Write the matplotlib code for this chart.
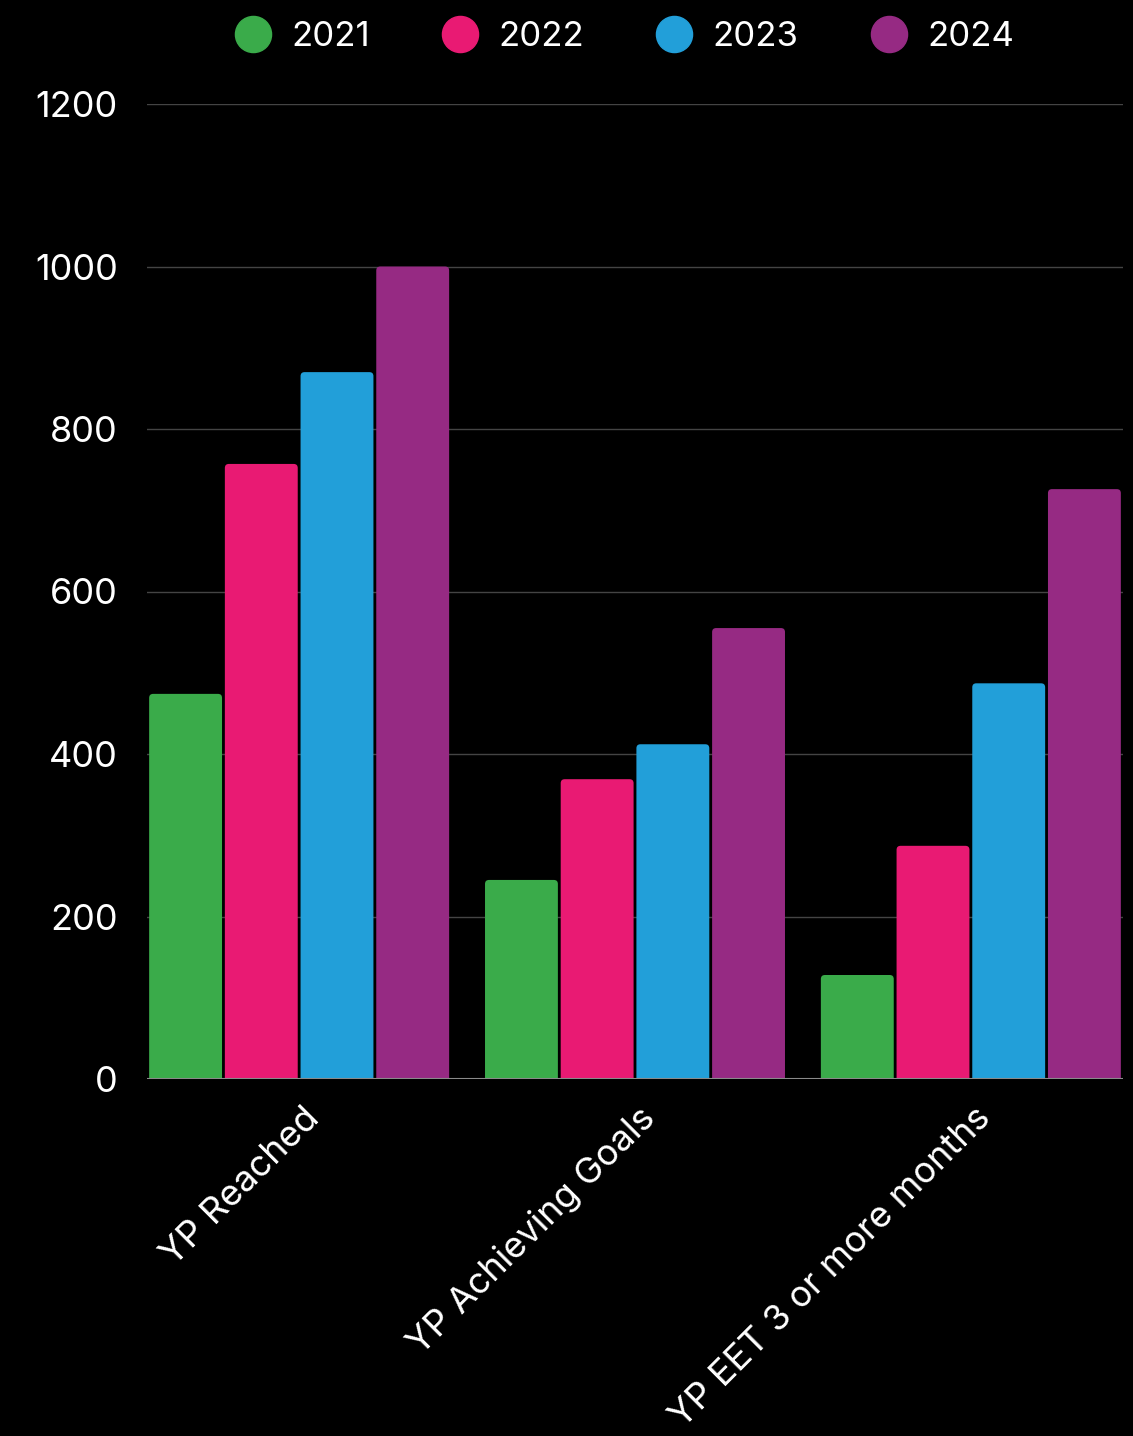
import matplotlib
matplotlib.use("Agg")
import matplotlib.pyplot as plt
from matplotlib.lines import Line2D
from matplotlib.patches import FancyBboxPatch
import matplotlib.transforms as mtransforms
import numpy as np

categories = ["YP Reached", "YP Achieving Goals", "YP EET 3 or more months"]
years = ["2021", "2022", "2023", "2024"]
values_2021 = [474, 245, 128]
values_2022 = [757, 369, 287]
values_2023 = [870, 412, 487]
values_2024 = [1000, 555, 726]
series = [values_2021, values_2022, values_2023, values_2024]
colors = ["#3aab4a", "#e91a73", "#229fd9", "#962a83"]
yticks = [0, 200, 400, 600, 800, 1000, 1200]

plt.rcParams['font.family'] = ['Inter', 'DejaVu Sans']

fig = plt.figure(figsize=(11.33, 14.36), dpi=100, facecolor="black")
ax = fig.add_axes([147/1133, 1-1079/1436, (1123-147)/1133, (1079-104)/1436])
ax.set_facecolor("black")

x = np.arange(len(categories))
slot = 0.2254
bw = 0.217
ax.set_xlim(-2 * slot - (slot - bw) / 2 + 0.002, 2 + 2 * slot + (slot - bw) / 2 - 0.002)
ax.set_ylim(0, 1200)

# pixel-to-data scale for rounded corners
px_x = (ax.get_xlim()[1] - ax.get_xlim()[0]) / (1123 - 147)
px_y = 1200 / (1079 - 104)
for i, (vals, c) in enumerate(zip(series, colors)):
    bars = ax.bar(x + (i - 1.5) * slot, vals, width=bw, color=c, zorder=3, label=years[i])
    for b in bars:
        bx, by, bwid, bh = b.get_x(), b.get_y(), b.get_width(), b.get_height()
        b.set_visible(False)
        p = FancyBboxPatch((bx, by - 10), bwid, bh + 10,
                           boxstyle=f"round,pad=0,rounding_size={4*px_x}",
                           mutation_aspect=px_y / px_x,
                           facecolor=c, edgecolor="none", zorder=3)
        ax.add_patch(p)

ax.set_yticks(yticks)
ax.set_yticklabels([str(v) for v in yticks])
for v in yticks[1:]:
    ax.axhline(v, color="#444444", lw=1, zorder=1)
ax.axhline(0, color="#8a8a8a", lw=1.5, zorder=4)

for s in ax.spines.values():
    s.set_visible(False)
ax.tick_params(axis="y", length=0, pad=21, labelsize=26, labelcolor="white")
ax.tick_params(axis="x", length=0, pad=16, labelsize=26, labelcolor="white")
ax.set_xticks(x)
ax.set_xticklabels(categories, rotation=45, ha="right", rotation_mode="anchor", va="top")
offset = mtransforms.ScaledTranslation(3/100, 0, fig.dpi_scale_trans)
for lbl in ax.get_xticklabels():
    lbl.set_transform(lbl.get_transform() + offset)

handles = [Line2D([0], [0], marker="o", linestyle="none", markersize=26,
                  markerfacecolor=c, markeredgecolor=c) for c in colors]
fig.legend(handles, years, loc="center", bbox_to_anchor=(623/1133, 1-37/1436),
           ncol=4, frameon=False, fontsize=25, labelcolor="white",
           handletextpad=0.5, columnspacing=2.0, handlelength=1.2)

fig.savefig("out.png", dpi=100, facecolor="black")
